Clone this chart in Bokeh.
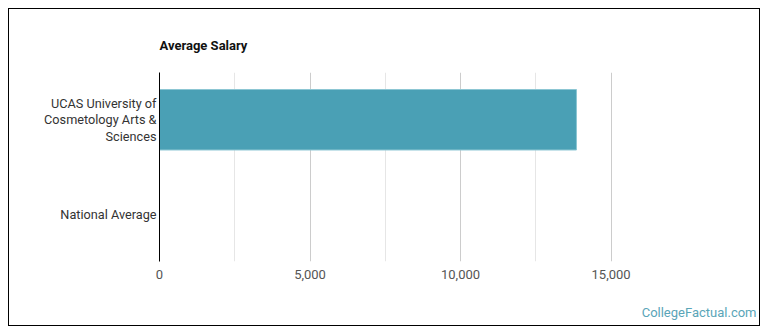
from bokeh.plotting import figure
from bokeh.models import FactorRange, Range1d, FixedTicker, Title, NumeralTickFormatter
from bokeh.embed import file_html
from bokeh.resources import INLINE

title_text = "Average Salary"
categories = ["UCAS University of\nCosmetology Arts &\nSciences", "National Average"]
salaries = [13850, 0]
major_ticks = [0, 5000, 10000, 15000]
minor_ticks = [2500, 7500, 12500]
watermark = "CollegeFactual.com"

p = figure(
    width=752, height=318,
    y_range=FactorRange(factors=categories[::-1]),
    x_range=Range1d(0, 19830),
    output_backend="svg", toolbar_location=None,
    min_border_left=150, min_border_right=5, min_border_top=63, min_border_bottom=66,
    margin=(8, 0, 0, 8),
    styles={"border": "1px solid #000000"},
)
p.outline_line_color = None
p.background_fill_color = "white"
p.border_fill_color = "white"

p.title.text = title_text
p.title.align = "left"
p.title.text_font = "Roboto"
p.title.text_font_size = "13px"
p.title.text_font_style = "bold"
p.title.text_color = "#111111"
p.title.standoff = 39

p.hbar(y=categories, right=salaries, left=0, height=0.64,
       fill_color="#4aa0b5", line_color="#8cc6d3", line_width=1)

ticker = FixedTicker(ticks=major_ticks, minor_ticks=minor_ticks)
p.xaxis.ticker = ticker
p.xgrid.ticker = ticker
p.xaxis.formatter = NumeralTickFormatter(format="0,0")
p.xaxis.axis_line_color = None
p.xaxis.major_tick_line_color = None
p.xaxis.minor_tick_line_color = None
p.xaxis.major_tick_out = 0
p.xaxis.major_tick_in = 0
p.xaxis.minor_tick_out = 0
p.xaxis.major_label_text_font = "Roboto"
p.xaxis.major_label_text_font_size = "13px"
p.xaxis.major_label_text_color = "#555555"
p.xaxis.major_label_standoff = 8

p.xgrid.grid_line_color = "#cccccc"
p.xgrid.minor_grid_line_color = "#e6e6e6"
p.ygrid.grid_line_color = None

p.yaxis.axis_line_color = "#000000"
p.yaxis.axis_line_width = 1
p.yaxis.major_tick_line_color = None
p.yaxis.minor_tick_line_color = None
p.yaxis.major_tick_out = 0
p.yaxis.major_tick_in = 0
p.yaxis.major_label_text_font = "Roboto"
p.yaxis.major_label_text_font_size = "12.7px"
p.yaxis.major_label_text_color = "#333333"
p.yaxis.major_label_standoff = 3
p.yaxis.major_label_text_line_height = 1.1

spacer = Title(text=" ", text_font_size="1px", standoff=16)
p.add_layout(spacer, "below")
wm = Title(text=watermark, align="right", text_font="Roboto", text_font_size="13px",
           text_font_style="normal", text_color="#5aa5b8", standoff=5)
p.add_layout(wm, "below")

open("out.html", "w").write(file_html(p, INLINE))
